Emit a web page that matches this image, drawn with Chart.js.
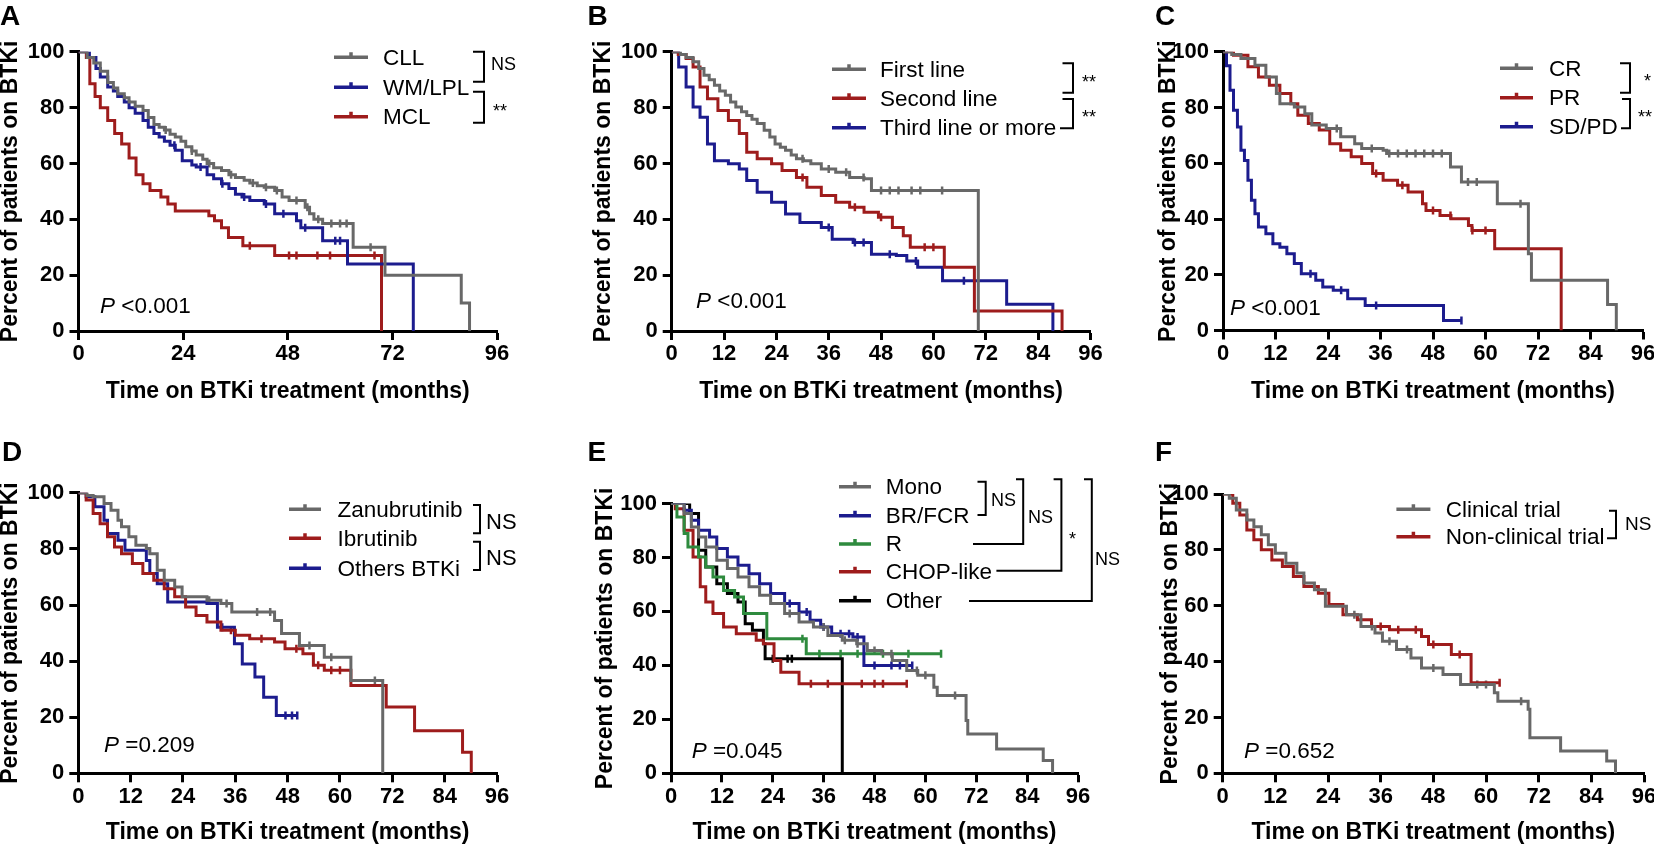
<!DOCTYPE html>
<html><head><meta charset="utf-8">
<script src="https://cdn.jsdelivr.net/npm/chart.js@4.4.1/dist/chart.umd.min.js"></script>
<style>
html,body{margin:0;padding:0;background:#fff;width:1654px;height:845px;overflow:hidden;position:relative}
canvas{position:absolute}
</style></head><body>
<script>
// ---------- text ----------
const X_TITLE = 'Time on BTKi treatment (months)';
const Y_TITLE = 'Percent of patients on BTKi';
const Y_TICKS = [0, 20, 40, 60, 80, 100];
const X_TICKS_24 = [0, 24, 48, 72, 96];
const X_TICKS_12 = [0, 12, 24, 36, 48, 60, 72, 84, 96];
const PANEL_LETTERS = ['A', 'B', 'C', 'D', 'E', 'F'];
const P_VALUES = ['<0.001', '<0.001', '<0.001', '=0.209', '=0.045', '=0.652'];

// ---------- Panel A ----------
const A_LABELS = ['CLL', 'WM/LPL', 'MCL'];
const A_SIG = ['NS', '**'];
const A_CLL_T = [0,2,3.5,5,6.7,8,9,10.5,11.6,13,14.8,16,17.3,18.5,19.7,21,22.2,23.5,24.6,26,27,28.5,29.5,31,32.8,34.5,36,38,39.3,41,42.6,45,46.7,48.3,52,53,54,56,63,70.3,87.8,89.7];
const A_CLL_S = [100,98,96,93,89,87,85,83.5,82,80.5,79,76.5,74,73,72,70.5,69.5,68,66,64.5,63,61.5,60,58.5,57.5,56,55,54,53,52,51.5,50.3,48,46.7,44.3,42,40,38.5,30,20,10,0];
const A_CLL_C = [20,26,30,35,40,43,45.5,50,52.5,55,58,60,61.5,67];
const A_WM_T = [0,2.5,4,5,6.7,8,9,10.5,11.6,13,14.8,16,17.3,18.5,19.7,21,22.2,23.8,26,27,29.5,31,32.8,34.5,36,37.5,39.3,42.6,45,50,51,56,61.7,76.8];
const A_WM_S = [100,98,94,91,87.4,86,84,82,80,78,75.4,73,70.7,69.5,68,66.5,64.7,61,59.5,58.7,56,54.5,52.7,51,49,48,46.7,45.5,42,39.5,37,32.3,24,0];
const A_WM_C = [22,28,33,38,43,47,52,58.9,60];
const A_MCL_T = [0,1.8,2.6,3.8,5,6.7,8.3,9.9,11.6,13.2,14.8,16.4,18.9,20.5,22.2,29,29.9,31.2,32.8,34.4,37.7,45,69.5];
const A_MCL_S = [100,98,88.6,84,80,75.4,70.7,67,62,56,52.7,50.3,48,45.5,43,43,41.3,39.5,37,33.5,30.5,27,0];
const A_MCL_C = [39.3,48.3,50,54.8,57.7,67.9];

// ---------- Panel B ----------
const B_LABELS = ['First line', 'Second line', 'Third line or more'];
const B_SIG = ['**', '**'];
const B_FIRST_T = [0,2,3.3,4.9,6.2,7.4,8.6,9.8,11,12.3,13.5,14.7,16,17.2,18.4,19.6,21.2,22.5,23.7,24.9,26.1,27.4,28.6,30.2,31.9,34.3,37.6,40.8,44.1,45.8,70.3];
const B_FIRST_S = [100,99,98,96.4,94,91.6,90,88,86,84.4,82,80.2,78.5,77.2,75.8,74.3,71.9,69.5,67,65.8,64.7,63,61.7,61,59.9,58,56.9,55,54.5,50.3,0];
const B_FIRST_C = [30,36,40,44,48,50,52,55,57,62];
const B_SECOND_T = [0,1.5,3.3,4.9,6.5,8.2,10.6,13,15.5,17.2,19.6,22.9,25.3,28.6,31,34.3,37.6,40.8,44.1,47.4,50.6,53.1,54.7,62.5,69.4,89.5];
const B_SECOND_S = [100,99,97.6,94.6,87.4,83.2,79,75.4,70.7,64,61.7,59.9,57.5,55,51.5,48.5,46.1,44.3,42.5,40.7,37.1,34.1,30,22.8,7.2,0];
const B_SECOND_C = [30,42,48,58,60];
const B_THIRD_T = [0,1.6,3.3,4.9,6.5,8.2,9.8,13,15.5,17.2,19.6,22.9,26.1,29.4,34.3,36.8,41.6,45.8,51.5,53.9,56.4,62.1,76.8,87.4];
const B_THIRD_S = [100,94.6,87.4,80.2,76.6,67,61,59.9,58,53.9,49.7,46.1,41.9,38.9,37.1,32.9,31.7,27.5,27,25.1,22.8,18,9.6,0];
const B_THIRD_C = [36,42,44,50,56,67];

// ---------- Panel C ----------
const C_LABELS = ['CR', 'PR', 'SD/PD'];
const C_SIG = ['*', '**'];
const C_CR_T = [0,2,4.1,7.3,9.8,12.2,13,16.3,18.7,20.3,23.6,26.9,30.1,31.7,36.6,37.4,52,54.5,62.7,69.8,70.5,87.9,89.9];
const C_CR_S = [100,99,97.6,95.2,91,85,81.4,80.2,77.8,73.7,72.5,69.5,67,65.3,64.7,63.5,58.7,53.3,45.5,27.5,18,9.3,0];
const C_CR_C = [26,34,38,40,42,44,46,48,50,56,58,68];
const C_PR_T = [0,2.4,5.7,8.1,10.6,13,15.5,17.1,19.5,22,24.4,26.9,29.3,31.7,34.2,36.6,39.9,42.3,45.6,46.4,49.6,52.1,56.1,56.9,62.1,77.3];
const C_PR_S = [100,98.8,94.6,91,88,85,81.4,77.2,74.3,71.9,67,64.7,62.3,59.9,56.3,53.9,52.1,49.7,45.5,43.1,41.3,40.1,37.7,35.9,29.3,0];
const C_PR_C = [35,41,48,52,57,60];
const C_SD_T = [0,0.8,1.6,2.4,3.3,4.1,4.9,5.7,6.5,7.3,8.1,9.8,11.4,13,14.6,16.3,17.9,21.2,22.8,25.2,28.5,32.5,50.4,54.5];
const C_SD_S = [100,95,86.2,79,73,64.7,61,53.9,46.7,41.9,37.1,34.7,31.1,29.9,27.5,24,20.4,18,15.6,14.4,11.4,9,3.6,3.6];
const C_SD_C = [20,27,35,54.5];

// ---------- Panel D ----------
const D_LABELS = ['Zanubrutinib', 'Ibrutinib', 'Others BTKi'];
const D_SIG = ['NS', 'NS'];
const D_ZANU_T = [0,2,3.4,5.9,7.5,9.1,9.9,11.6,13.2,15.6,16.4,18.1,19.7,22.1,23.8,29.5,32.7,35.2,45,46.6,50.7,56.4,62.5,69.8];
const D_ZANU_S = [100,99,98.6,96.2,93.8,90.2,87.9,84.3,81.3,80.1,78.3,72.4,68.8,66.4,62.9,61.7,60.5,57.5,54.5,49.8,45.6,41.4,33.1,0];
const D_ZANU_C = [30,34,41,44,53,58,68];
const D_IBRU_T = [0,1.8,3.4,5,6.7,8.3,9.9,12.4,14.8,17.3,19.7,22.1,24.6,27,29.5,32.7,36,39.3,45,47.4,51.5,53.9,56.4,62.5,70.6,77.1,88.1,90.1];
const D_IBRU_S = [100,97.4,92.6,89,84.3,80.7,78.3,74.8,71.2,68.8,65.8,62.9,59.3,56.3,53.9,51,49.2,48,46.8,44.4,42.6,38.5,36.7,31.3,23.6,15.2,7.5,0];
const D_IBRU_C = [35,42,50,55,58,60];
const D_OTH_T = [0,1.8,3.8,5.9,6.7,9.1,10.7,15.6,16.4,18.1,20.5,29.5,31.9,35.8,37.6,40.5,42.5,45.4,50.2];
const D_OTH_S = [100,98.6,95,90.2,85.5,83.1,79.5,75.9,71.2,67.6,61.1,60.5,52.1,46.2,39,34.3,27.1,20.6,20.6];
const D_OTH_C = [33,47.5,49,50.2];

// ---------- Panel E ----------
const E_LABELS = ['Mono', 'BR/FCR', 'R', 'CHOP-like', 'Other'];
const E_SIG = ['NS', 'NS', '*', 'NS'];
const E_MONO_T = [0,3.1,4.8,6.5,8.2,10.8,13.3,15.8,18.4,20.9,23.5,26.8,30.2,33.6,37,40.4,43.8,46.3,49.7,52.2,55.6,58.2,62,62.8,69.6,70,76.8,87.8,90];
const E_MONO_S = [100,96.3,91.3,87.6,83.9,79,75.9,72.8,69.1,66,62.9,59.2,56.1,54.2,51.1,49.3,48,45.5,44.3,41.8,38.1,36.3,31.9,28.8,19.6,14.6,9,4.7,0];
const E_MONO_C = [28,36,41,44,48,52,58,60,67];
const E_BR_T = [0,3.1,4.8,6.5,9.1,10.8,13.3,15.8,18.4,20.9,23.5,26.8,30.2,32.8,35.3,37.9,42.9,45.5,56.9];
const E_BR_S = [100,97.5,93.8,90.1,87.6,83.3,80.2,77.1,74,70.3,66.6,62.9,59.8,56.7,54.2,51.7,50.5,40,40];
const E_BR_C = [28,32,36,40,42,44,48,52,54,56.9];
const E_R_T = [0,1.4,3.1,4,6.5,8.2,9.9,12.4,15,17.1,22.6,31.9,63.7];
const E_R_S = [100,95,88.9,83.9,80.2,76.5,72.8,67.8,65.3,59.2,49.9,44.3,44.3];
const E_R_C = [31,35,40,44,50,56,63.7];
const E_CHOP_T = [0,1,3.1,5.2,6.9,8.2,9.9,12.4,15.4,20.1,21.8,24.3,25.9,30.2,55.6];
const E_CHOP_S = [100,98.1,90.1,80.2,69.1,63.5,59.2,54.2,51.7,49.3,48,41.8,37.5,33.2,33.2];
const E_CHOP_C = [33,37,45,48,50,55.6];
const E_OTH_T = [0,3.1,4.4,6.5,8.2,10.8,13.3,15.8,17.5,19.2,21.8,22.2,40.4];
const E_OTH_S = [100,100,96.3,82.7,76.5,70.3,66.6,63.5,55.4,53,48,42.5,0];
const E_OTH_C = [24,27.5,28.5];

// ---------- Panel F ----------
const F_LABELS = ['Clinical trial', 'Non-clinical trial'];
const F_SIG = ['NS'];
const F_CLIN_T = [0,1.5,3.1,5.5,7.1,8.8,10.4,12,14.4,16.9,18.5,20.9,23.4,28.2,31.5,34.7,36.4,39.6,42.9,45.3,50.2,54.2,61.9,62.7,69.6,70,77,87.5,89.5];
const F_CLIN_S = [100,98.5,94.3,90.7,88.3,85.4,81.8,78.8,75.2,71.7,68.1,65.7,59.8,56.8,52.6,50.2,47.3,44.3,41.3,37.7,35.4,31.8,28.8,25.8,22.9,12.7,8,4.4,0];
const F_CLIN_C = [30,34,38,42,48,58,60,68];
const F_NON_T = [0,2.3,3.9,5.5,7.1,8.8,11.2,13.6,16.1,18.5,21.8,24.2,27.4,30.7,33.9,38,45.3,46.9,52.1,56.6,63.1];
const F_NON_S = [100,96.7,92.5,87.1,83.6,80,76.4,74,70.5,66.9,64.5,60.4,56.8,55,52.6,51.4,49,46.1,42.5,32.4,32.4];
const F_NON_C = [36,40,44,48,54,63.1];

// ---------- styles ----------
const GRAY = '#686868', BLUE = '#1c1c8e', RED = '#9e1c1c', GREEN = '#2e8b3e', BLACK = '#000000';
const FONT = '"Liberation Sans", Arial, Helvetica, sans-serif';
const TITLE_SIZE = 23, TICK_SIZE = 22, LEG_SIZE = 22.5;
const TITLE_HALF = TITLE_SIZE * 1.2 / 2;
Chart.defaults.font.family = FONT;
Chart.defaults.color = '#000';

function survAt(T, S, t) {
  let v = S[0];
  for (let i = 0; i < T.length; i++) if (T[i] <= t) v = S[i];
  return v;
}

const decor = {
  id: 'kmDecor',
  afterDraw(chart, args, o) {
    const ctx = chart.ctx, ox = o.ox, oy = o.oy;
    ctx.save();
    ctx.fillStyle = '#000';
    ctx.textAlign = 'left';
    ctx.font = 'bold 28px ' + FONT;
    ctx.textBaseline = 'alphabetic';
    ctx.fillText(o.letter, o.letterXY[0] - ox, o.letterXY[1] - oy);
    const n = o.nSeries;
    for (let i = 0; i < n; i++) {
      const ds = chart.data.datasets[i];
      const y = o.legY[i] - oy;
      ctx.strokeStyle = ds.borderColor;
      ctx.lineWidth = 3.5;
      ctx.beginPath();
      ctx.moveTo(o.legX[0] - ox, y); ctx.lineTo(o.legX[1] - ox, y);
      const mx = (o.legX[0] + o.legX[1]) / 2 - ox;
      ctx.moveTo(mx, y); ctx.lineTo(mx, y - 5);
      ctx.stroke();
      ctx.fillStyle = '#000';
      ctx.font = LEG_SIZE + 'px ' + FONT;
      ctx.textBaseline = 'middle';
      ctx.fillText(ds.label, o.legX[2] - ox, y + 1);
    }
    ctx.strokeStyle = '#000';
    ctx.lineWidth = 2;
    o.brackets.forEach(b => {
      ctx.beginPath();
      ctx.moveTo(b[0] - ox, b[1] - oy);
      ctx.lineTo(b[2] - ox, b[1] - oy);
      ctx.lineTo(b[2] - ox, b[3] - oy);
      ctx.lineTo(b[4] - ox, b[3] - oy);
      ctx.stroke();
    });
    ctx.textBaseline = 'alphabetic';
    o.sigPos.forEach((s, i) => {
      ctx.font = s[2] + 'px ' + FONT;
      ctx.fillText(o.sig[i], s[0] - ox, s[1] - oy);
    });
    ctx.font = 'italic 22.5px ' + FONT;
    ctx.fillText('P', o.pXY[0] - ox, o.pXY[1] - oy);
    const w = ctx.measureText('P').width;
    ctx.font = '22.5px ' + FONT;
    ctx.fillText(' ' + o.pText, o.pXY[0] + w - ox, o.pXY[1] - oy);
    ctx.restore();
  }
};

function buildPanel(p) {
  const c = document.createElement('canvas');
  c.width = p.w; c.height = p.h;
  c.style.left = p.left + 'px'; c.style.top = p.top + 'px';
  c.style.width = p.w + 'px'; c.style.height = p.h + 'px';
  document.body.appendChild(c);
  const datasets = [];
  p.series.forEach(s => datasets.push({
    label: s.label,
    data: s.T.map((t, i) => ({ x: t, y: s.S[i] })),
    stepped: true, borderColor: s.color, backgroundColor: s.color,
    borderWidth: 3, pointRadius: 0, fill: false, tension: 0
  }));
  p.series.forEach(s => datasets.push({
    label: s.label + ' (censored)',
    data: s.C.map(t => ({ x: t, y: survAt(s.T, s.S, t) })),
    showLine: false, pointStyle: 'line', rotation: 90,
    pointRadius: 4, pointBorderWidth: 2.5,
    pointBorderColor: s.color, borderColor: s.color, backgroundColor: s.color
  }));
  const hx = p.xTitleC + TITLE_HALF - p.plot[3];
  const common = {
    grid: { drawOnChartArea: false, drawTicks: true, tickLength: 9, tickWidth: 3, tickColor: '#000' },
    border: { display: true, width: 3, color: '#000' }
  };
  new Chart(c, {
    type: 'line',
    data: { datasets },
    options: {
      responsive: false, animation: false, events: [],
      layout: { padding: { left: 0, top: p.plot[2] - p.top, right: p.left + p.w - p.plot[1], bottom: p.top + p.h - (p.xTitleC + TITLE_HALF) } },
      plugins: {
        legend: { display: false }, tooltip: { enabled: false },
        kmDecor: {
          ox: p.left, oy: p.top, nSeries: p.series.length,
          letter: p.letter, letterXY: p.letterXY, legX: p.legX, legY: p.legY,
          brackets: p.brackets, sig: p.sig, sigPos: p.sigPos, pText: p.pText, pXY: p.pXY
        }
      },
      scales: {
        x: Object.assign({}, common, {
          type: 'linear', min: 0, max: 96,
          afterBuildTicks: sc => { sc.ticks = p.xticks.map(v => ({ value: v })); },
          afterFit: sc => { sc.height = hx; },
          ticks: { color: '#000', font: { size: TICK_SIZE, weight: 'bold' }, padding: 1, autoSkip: false, maxRotation: 0 },
          title: { display: true, text: X_TITLE, color: '#000', font: { size: TITLE_SIZE, weight: 'bold' }, padding: 0 }
        }),
        y: Object.assign({}, common, {
          type: 'linear', min: 0, max: 100,
          afterBuildTicks: sc => { sc.ticks = Y_TICKS.map(v => ({ value: v })); },
          afterFit: sc => { sc.width = p.plot[0] - p.left; },
          ticks: { color: '#000', font: { size: TICK_SIZE, weight: 'bold' }, padding: 5 },
          title: { display: true, text: Y_TITLE, color: '#000', font: { size: TITLE_SIZE, weight: 'bold' }, padding: { top: p.yTitleC - p.left - TITLE_HALF, bottom: 0 } }
        })
      }
    },
    plugins: [decor]
  });
}

const panels = [
  { letter: PANEL_LETTERS[0], left: -4, top: 0, w: 579, h: 432, plot: [78.5, 497, 51.8, 331], yTitleC: 10.7, xTitleC: 392, xticks: X_TICKS_24,
    series: [
      { label: A_LABELS[0], T: A_CLL_T, S: A_CLL_S, C: A_CLL_C, color: GRAY },
      { label: A_LABELS[1], T: A_WM_T, S: A_WM_S, C: A_WM_C, color: BLUE },
      { label: A_LABELS[2], T: A_MCL_T, S: A_MCL_S, C: A_MCL_C, color: RED }],
    letterXY: [0, 25], legX: [334, 368, 383], legY: [57.3, 87.3, 116.7],
    brackets: [[473, 51.7, 484, 81.7, 473], [473, 91.7, 484, 122.7, 473]],
    sig: A_SIG, sigPos: [[491, 70, 18], [493, 117, 18]], pText: P_VALUES[0], pXY: [100, 313] },
  { letter: PANEL_LETTERS[1], left: 575, top: 0, w: 555, h: 432, plot: [671.7, 1090.4, 51.8, 331], yTitleC: 603.6, xTitleC: 392, xticks: X_TICKS_12,
    series: [
      { label: B_LABELS[0], T: B_FIRST_T, S: B_FIRST_S, C: B_FIRST_C, color: GRAY },
      { label: B_LABELS[1], T: B_SECOND_T, S: B_SECOND_S, C: B_SECOND_C, color: RED },
      { label: B_LABELS[2], T: B_THIRD_T, S: B_THIRD_S, C: B_THIRD_C, color: BLUE }],
    letterXY: [587.5, 25], legX: [832, 866, 880], legY: [69.3, 98.3, 127.7],
    brackets: [[1062.5, 63.3, 1073, 92.7, 1062.5], [1062.5, 99, 1073, 128.3, 1060]],
    sig: B_SIG, sigPos: [[1082, 88.3, 18], [1082, 123.3, 18]], pText: P_VALUES[1], pXY: [696, 308] },
  { letter: PANEL_LETTERS[2], left: 1130, top: 0, w: 530, h: 432, plot: [1223, 1643, 51.8, 330.5], yTitleC: 1169, xTitleC: 391.5, xticks: X_TICKS_12,
    series: [
      { label: C_LABELS[0], T: C_CR_T, S: C_CR_S, C: C_CR_C, color: GRAY },
      { label: C_LABELS[1], T: C_PR_T, S: C_PR_S, C: C_PR_C, color: RED },
      { label: C_LABELS[2], T: C_SD_T, S: C_SD_S, C: C_SD_C, color: BLUE }],
    letterXY: [1155, 25], legX: [1500, 1533, 1549], legY: [68.3, 97.7, 126.7],
    brackets: [[1620, 63.3, 1630, 92.7, 1620], [1622, 99, 1630, 128.3, 1621]],
    sig: C_SIG, sigPos: [[1644, 87.3, 18], [1638, 123.3, 18]], pText: P_VALUES[2], pXY: [1230, 315] },
  { letter: PANEL_LETTERS[3], left: -4, top: 432, w: 579, h: 418, plot: [78.3, 497, 492.8, 773.3], yTitleC: 10.7, xTitleC: 833, xticks: X_TICKS_12,
    series: [
      { label: D_LABELS[0], T: D_ZANU_T, S: D_ZANU_S, C: D_ZANU_C, color: GRAY },
      { label: D_LABELS[1], T: D_IBRU_T, S: D_IBRU_S, C: D_IBRU_C, color: RED },
      { label: D_LABELS[2], T: D_OTH_T, S: D_OTH_S, C: D_OTH_C, color: BLUE }],
    letterXY: [2, 461], legX: [289, 321, 337.5], legY: [509.3, 538.3, 568.3],
    brackets: [[473, 505, 480, 533.3, 473], [473, 541.7, 480, 570, 473]],
    sig: D_SIG, sigPos: [[486, 529, 22], [486, 564.6, 22]], pText: P_VALUES[3], pXY: [104, 751.7] },
  { letter: PANEL_LETTERS[4], left: 575, top: 432, w: 555, h: 418, plot: [671, 1078, 503.5, 773.3], yTitleC: 605.4, xTitleC: 833, xticks: X_TICKS_12,
    series: [
      { label: E_LABELS[0], T: E_MONO_T, S: E_MONO_S, C: E_MONO_C, color: GRAY },
      { label: E_LABELS[1], T: E_BR_T, S: E_BR_S, C: E_BR_C, color: BLUE },
      { label: E_LABELS[2], T: E_R_T, S: E_R_S, C: E_R_C, color: GREEN },
      { label: E_LABELS[3], T: E_CHOP_T, S: E_CHOP_S, C: E_CHOP_C, color: RED },
      { label: E_LABELS[4], T: E_OTH_T, S: E_OTH_S, C: E_OTH_C, color: BLACK }],
    letterXY: [587.5, 461], legX: [839, 871, 885.7], legY: [486.7, 515.7, 544, 571.7, 600.7],
    brackets: [[977.5, 481.7, 985.7, 515, 977.5], [1016, 479.3, 1023.2, 544, 973], [1053.6, 479.3, 1061.4, 570.7, 996.4], [1084, 479.3, 1091.8, 601, 969]],
    sig: E_SIG, sigPos: [[991, 506.4, 18], [1028, 523.1, 18], [1069, 545, 18], [1095, 565.4, 18]], pText: P_VALUES[4], pXY: [691.7, 758.3] },
  { letter: PANEL_LETTERS[5], left: 1130, top: 432, w: 530, h: 418, plot: [1222.7, 1644, 494, 773.3], yTitleC: 1170.4, xTitleC: 833, xticks: X_TICKS_12,
    series: [
      { label: F_LABELS[0], T: F_CLIN_T, S: F_CLIN_S, C: F_CLIN_C, color: GRAY },
      { label: F_LABELS[1], T: F_NON_T, S: F_NON_S, C: F_NON_C, color: RED }],
    letterXY: [1155, 461], legX: [1396.4, 1430.4, 1445.7], legY: [509.3, 536.7],
    brackets: [[1609, 510.7, 1616, 538.3, 1607]],
    sig: F_SIG, sigPos: [[1625, 530, 19]], pText: P_VALUES[5], pXY: [1244, 758.3] }
];

panels.forEach(buildPanel);
</script>
</body></html>
